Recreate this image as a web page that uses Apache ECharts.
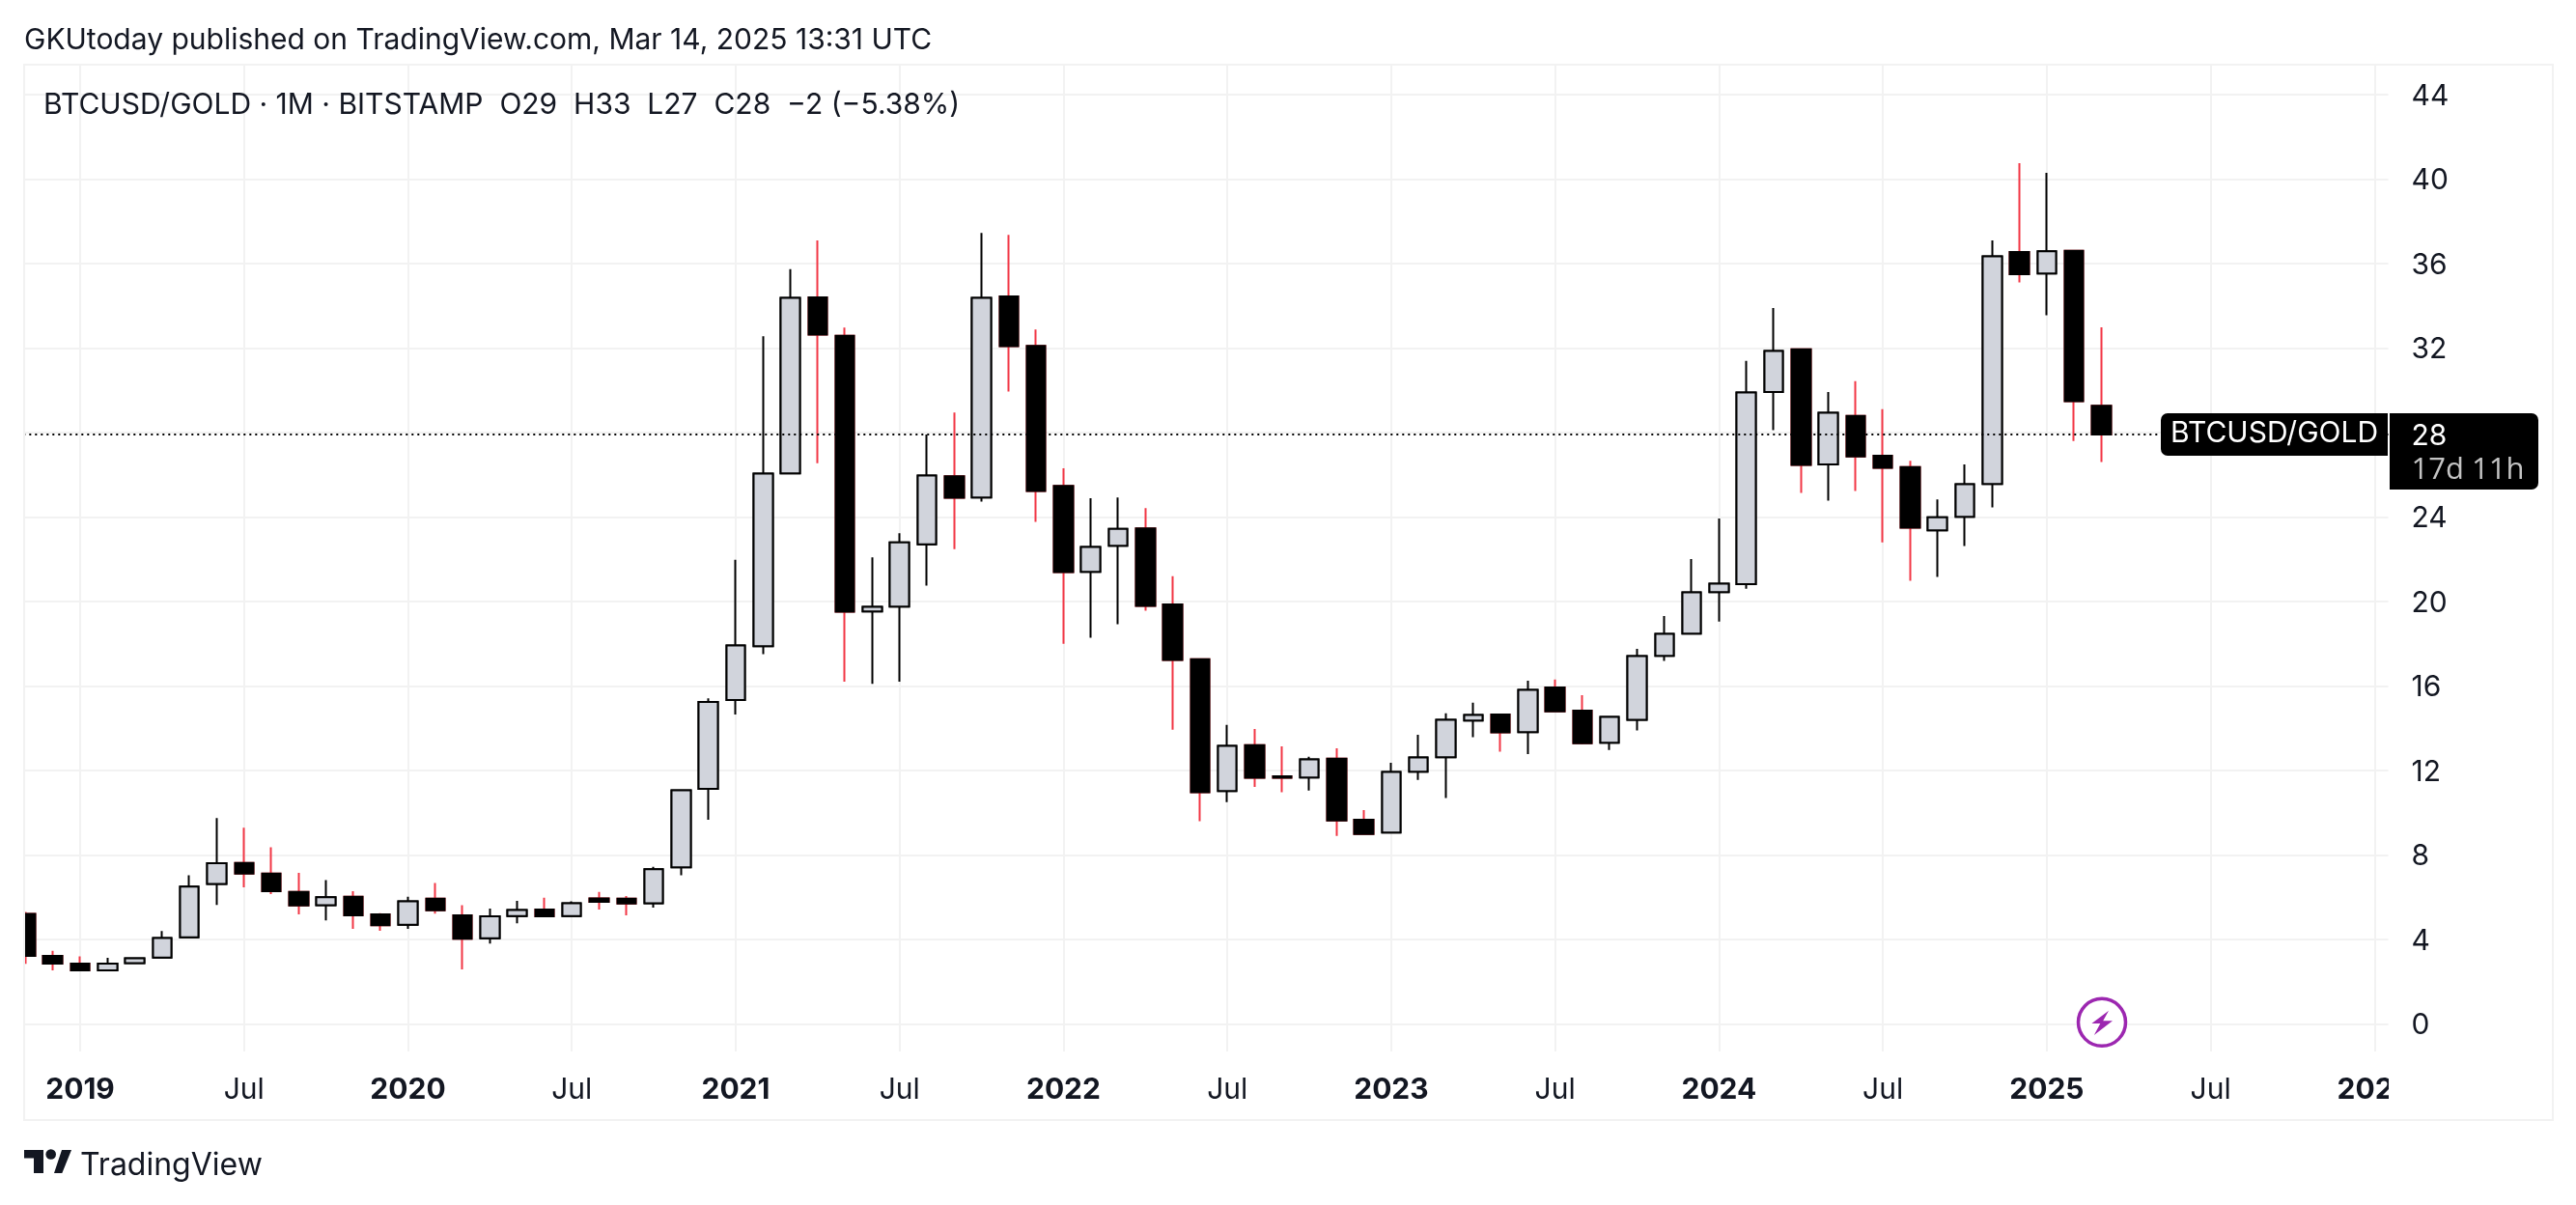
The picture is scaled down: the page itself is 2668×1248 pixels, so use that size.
<!DOCTYPE html>
<html>
<head>
<meta charset="utf-8">
<title>BTCUSD/GOLD</title>
<style>
  html, body { margin: 0; padding: 0; background: #fff; }
  #main { width: 2668px; height: 1248px; }
</style>
<script src="https://cdn.jsdelivr.net/npm/echarts@6/dist/echarts.min.js"></script>
</head>
<body>
<div id="main"></div>
<script>
// monthly bars, Nov 2018 .. Jan 2026 (the axis runs on past the last bar)
const months = [
  "2018-11","2018-12",
  "2019-01","2019-02","2019-03","2019-04","2019-05","2019-06","2019-07","2019-08","2019-09","2019-10","2019-11","2019-12",
  "2020-01","2020-02","2020-03","2020-04","2020-05","2020-06","2020-07","2020-08","2020-09","2020-10","2020-11","2020-12",
  "2021-01","2021-02","2021-03","2021-04","2021-05","2021-06","2021-07","2021-08","2021-09","2021-10","2021-11","2021-12",
  "2022-01","2022-02","2022-03","2022-04","2022-05","2022-06","2022-07","2022-08","2022-09","2022-10","2022-11","2022-12",
  "2023-01","2023-02","2023-03","2023-04","2023-05","2023-06","2023-07","2023-08","2023-09","2023-10","2023-11","2023-12",
  "2024-01","2024-02","2024-03","2024-04","2024-05","2024-06","2024-07","2024-08","2024-09","2024-10","2024-11","2024-12",
  "2025-01","2025-02","2025-03","2025-04","2025-05","2025-06","2025-07","2025-08","2025-09","2025-10","2025-11","2025-12",
  "2026-01"
];
const opens = [
  5.2,3.21,
  2.85,2.53,2.87,3.14,4.1,6.62,7.62,7.11,6.24,5.61,6.01,5.18,
  4.69,5.92,5.14,4.05,5.1,5.41,5.1,5.94,5.92,5.71,7.41,11.12,
  15.33,17.88,26.07,34.4,32.58,19.53,19.76,22.7,25.93,24.92,34.44,32.1,
  25.47,21.4,22.64,23.46,19.86,17.26,11.02,13.19,11.72,11.66,12.55,9.66,
  9.05,11.94,12.62,14.36,14.65,13.81,15.93,14.83,13.31,14.39,17.42,18.47,
  20.44,20.82,29.92,31.94,26.49,28.78,26.9,26.36,23.37,24.01,25.56,36.55,
  35.53,36.6,29.27
];
const closes = [
  3.21,2.85,
  2.53,2.85,3.1,4.06,6.5,7.6,7.11,6.28,5.6,5.99,5.14,4.67,
  5.8,5.37,4.03,5.09,5.39,5.09,5.71,5.77,5.69,7.32,11.06,15.24,
  17.91,26.05,34.37,32.64,19.51,19.74,22.8,25.96,24.91,34.37,32.09,25.23,
  21.39,22.58,23.44,19.79,17.23,10.96,13.16,11.65,11.65,12.52,9.63,8.99,
  11.92,12.61,14.39,14.62,13.8,15.81,14.79,13.28,14.53,17.41,18.46,20.43,
  20.84,29.89,31.86,26.46,28.93,26.87,26.33,23.49,23.99,25.55,36.34,35.5,
  36.58,29.48,27.905
];
const lows = [
  2.84,2.53,
  2.53,2.53,2.87,3.14,4.1,5.63,6.46,6.14,5.18,4.9,4.5,4.4,
  4.5,5.22,2.57,3.8,4.76,5.05,5.05,5.41,5.14,5.5,7.03,9.66,
  14.65,17.5,26.07,26.54,16.2,16.1,16.2,20.75,22.48,24.73,29.94,23.77,
  18.0,18.28,18.92,19.56,13.93,9.59,10.5,11.22,10.96,11.04,8.89,8.99,
  9.05,11.55,10.69,13.57,12.88,12.77,14.76,13.23,12.97,13.89,17.18,18.47,
  19.05,20.6,28.11,25.14,24.77,25.23,22.8,20.98,21.16,22.62,24.45,35.11,
  33.55,27.6,26.6
];
const highs = [
  5.29,3.46,
  3.19,3.12,3.1,4.39,7.03,9.74,9.28,8.36,7.15,6.8,6.28,5.24,
  6.01,6.67,5.61,5.46,5.82,5.97,5.8,6.24,6.05,7.43,11.06,15.41,
  21.97,32.56,35.73,37.09,32.97,22.09,23.23,27.91,28.95,37.45,37.36,32.88,
  26.3,24.89,24.92,24.42,21.19,17.26,14.15,13.96,13.14,12.64,13.05,10.12,
  12.36,13.69,14.7,15.2,14.65,16.25,16.3,15.56,14.53,17.76,19.31,22.01,
  23.93,31.39,33.89,31.94,29.92,30.43,29.1,26.66,24.83,26.49,37.1,40.75,
  40.3,36.6,32.98
];
const lastPrice = closes[closes.length - 1];

const INK = "#131722";
const FONT = "Inter";
const gridColor = "#f2f2f2";

// wick series carries the red/black wicks, body series sits on top with black outlines
const wickData = opens.map((o, i) => [o, closes[i], lows[i], highs[i]]);
const bodyData = opens.map((o, i) => [o, closes[i], Math.min(o, closes[i]), Math.max(o, closes[i])]);

const isTick = (idx, val) => /-(01|07)$/.test(val);
const tickLabel = (val) => {
  const [y, m] = val.split("-");
  return m === "01" ? "{year|" + y + "}" : "{mon|Jul}";
};

const option = {
  animation: false,
  backgroundColor: "#fff",
  textStyle: { fontFamily: FONT },
  grid: [
    // candles + price scale, 0..44 exactly
    { left: 12.3, right: 194.5, top: 98, bottom: 187.7 },
    // full pane, carries the time scale and vertical lines
    { left: 12.3, right: 194.5, top: 67, bottom: 159 }
  ],
  xAxis: [
    { type: "category", gridIndex: 0, data: months, show: false },
    {
      type: "category",
      gridIndex: 1,
      data: months,
      axisLine: { show: false },
      axisTick: { show: false },
      splitLine: { show: true, interval: isTick, alignWithLabel: true, lineStyle: { color: gridColor, width: 2 } },
      axisLabel: {
        interval: isTick,
        margin: 25,
        hideOverlap: false,
        formatter: tickLabel,
        rich: {
          year: { fontFamily: FONT, fontSize: 30, fontWeight: 700, color: INK },
          mon: { fontFamily: FONT, fontSize: 30, color: INK }
        }
      }
    }
  ],
  yAxis: [
    {
      type: "value",
      gridIndex: 0,
      position: "right",
      min: 0,
      max: 44,
      interval: 4,
      axisLine: { show: false },
      axisTick: { show: false },
      axisLabel: {
        margin: 24,
        formatter: "{p|{value}}",
        rich: { p: { padding: [4, 0, 0, 0], fontFamily: FONT, fontSize: 30, color: INK } }
      },
      splitLine: { show: true, lineStyle: { color: gridColor, width: 2 } }
    },
    { type: "value", gridIndex: 1, show: false, min: 0, max: 44 }
  ],
  series: [
    {
      name: "wick",
      type: "candlestick",
      xAxisIndex: 0,
      yAxisIndex: 0,
      barWidth: 20,
      data: wickData,
      itemStyle: { color: "#d1d4dc", color0: "#000", borderColor: "#000", borderColor0: "#f23645", borderWidth: 2 },
      markLine: {
        silent: true,
        symbol: "none",
        label: { show: false },
        lineStyle: { color: "#000", type: [2, 4], width: 2 },
        data: [{ yAxis: lastPrice }]
      }
    },
    {
      name: "body",
      type: "candlestick",
      xAxisIndex: 0,
      yAxisIndex: 0,
      barWidth: 20,
      data: bodyData,
      itemStyle: { color: "#d1d4dc", color0: "#000", borderColor: "#000", borderColor0: "#000", borderWidth: 2 }
    }
  ],
  graphic: {
    elements: [
      // left edge and the cut-off part of the time scale
      { type: "rect", z: 50, shape: { x: 0, y: 60, width: 25, height: 1110 }, style: { fill: "#fff" } },
      { type: "rect", z: 50, shape: { x: 2474, y: 1091, width: 168, height: 66 }, style: { fill: "#fff" } },
      { type: "rect", z: 51, shape: { x: 25, y: 67, width: 2619, height: 1093 }, style: { fill: "none", stroke: gridColor, lineWidth: 2 } },

      { type: "text", z: 60, x: 25, y: 42, style: { text: "GKUtoday published on TradingView.com, Mar 14, 2025 13:31 UTC", fill: INK, font: "30px " + FONT, textVerticalAlign: "middle" } },
      { type: "text", z: 60, x: 45, y: 109, style: { text: "BTCUSD/GOLD \u00b7 1M \u00b7 BITSTAMP  O29  H33  L27  C28  \u22122 (\u22125.38%)", fill: INK, font: "30px " + FONT, textVerticalAlign: "middle" } },

      // last price tags
      { type: "rect", z: 60, shape: { x: 2238, y: 428, width: 235, height: 44, r: [7, 0, 0, 7] }, style: { fill: "#000" } },
      { type: "text", z: 61, x: 2248, y: 449, style: { text: "BTCUSD/GOLD", fill: "#fff", font: "30px " + FONT, textVerticalAlign: "middle" } },
      { type: "rect", z: 60, shape: { x: 2475, y: 428, width: 154, height: 79, r: [0, 7, 7, 0] }, style: { fill: "#000" } },
      { type: "text", z: 61, x: 2497.5, y: 452, style: { text: "28", fill: "#fff", font: "30px " + FONT, textVerticalAlign: "middle" } },
      { type: "text", z: 61, x: 2497.5, y: 487, style: { text: "17d 11h", fill: "#c4c4c4", font: "31px 'Open Sans'", textVerticalAlign: "middle" } },

      // lightning marker
      { type: "circle", z: 60, shape: { cx: 2177, cy: 1058.8, r: 24.5 }, style: { fill: "#fff", stroke: "#9c27b0", lineWidth: 3.5 } },
      { type: "polygon", z: 61, shape: { points: [[2184, 1046.7], [2166.4, 1060], [2175.3, 1060], [2168.9, 1072], [2188, 1057.3], [2178.2, 1057.3]] }, style: { fill: "#9c27b0" } },

      // TradingView logo
      { type: "polygon", z: 60, shape: { points: [[25, 1191], [45, 1191], [45, 1215], [35, 1215], [35, 1199.5], [25, 1199.5]] }, style: { fill: INK } },
      { type: "polygon", z: 60, shape: { points: [[56, 1215], [64, 1191], [74, 1191], [64.3, 1215]] }, style: { fill: INK } },
      { type: "circle", z: 60, shape: { cx: 52.7, cy: 1195.5, r: 5.3 }, style: { fill: INK } },
      { type: "text", z: 60, x: 83, y: 1207, style: { text: "TradingView", fill: INK, font: "32px " + FONT, textVerticalAlign: "middle" } }
    ]
  }
};

const myChart = echarts.init(document.getElementById("main"));
myChart.setOption(option);
</script>
</body>
</html>
